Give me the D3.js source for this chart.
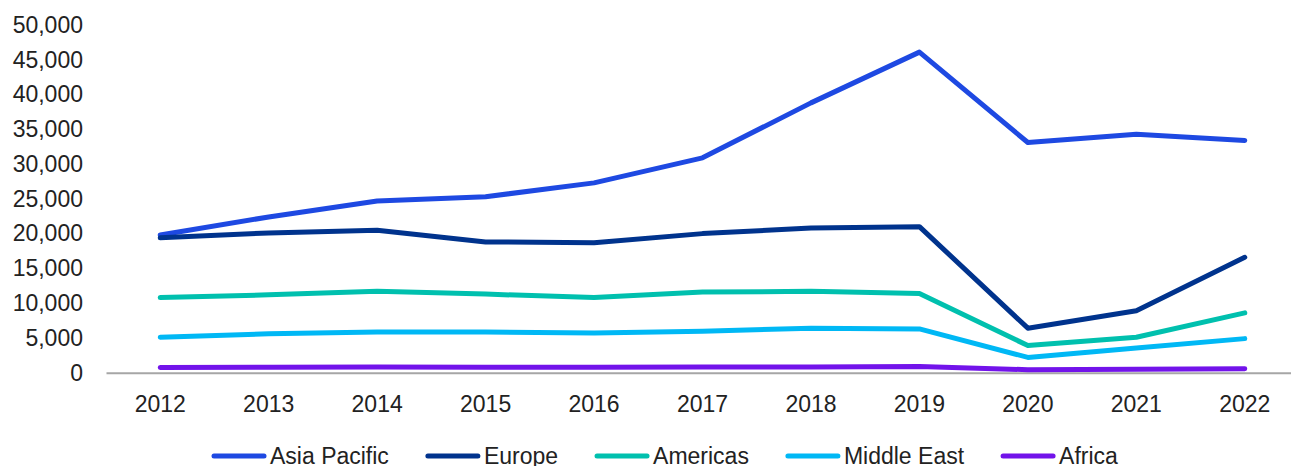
<!DOCTYPE html>
<html>
<head>
<meta charset="utf-8">
<script src="https://cdn.jsdelivr.net/npm/d3@7"></script>
<style>
  body { margin: 0; background: #fff; }
  text { font-family: "Liberation Sans", Arial, sans-serif; fill: #222; }
</style>
</head>
<body>
<div id="chart"></div>
<script>
// data
var years = ["2012", "2013", "2014", "2015", "2016", "2017", "2018", "2019", "2020", "2021", "2022"];
var asiaPacific = [19800, 22400, 24700, 25300, 27300, 30900, 38800, 46100, 33100, 34300, 33400];
var europe      = [19400, 20100, 20500, 18800, 18700, 20000, 20800, 21000, 6400, 8900, 16600];
var americas    = [10800, 11200, 11700, 11300, 10800, 11600, 11700, 11400, 3900, 5100, 8600];
var middleEast  = [5100, 5600, 5850, 5850, 5700, 5950, 6400, 6300, 2200, 3550, 4900];
var africa      = [750, 780, 820, 800, 790, 810, 820, 900, 430, 500, 580];
var yTicks = [0, 5000, 10000, 15000, 20000, 25000, 30000, 35000, 40000, 45000, 50000];

var seriesNames = ["Asia Pacific", "Europe", "Americas", "Middle East", "Africa"];
var seriesValues = [asiaPacific, europe, americas, middleEast, africa];
var colors = ["#1E49E2", "#00338D", "#00C0AE", "#00B8F5", "#7213EA"];

var width = 1291, height = 466;
var margin = { top: 25, right: -8, bottom: 93, left: 106 };

var svg = d3.select("#chart")
  .append("svg")
  .attr("width", width)
  .attr("height", height);

// scales
var x = d3.scaleBand()
  .domain(years)
  .range([margin.left, width - margin.right])
  .padding(0);

var y = d3.scaleLinear()
  .domain([0, 50000])
  .range([height - margin.bottom - 0.3, margin.top]);

var cx = function (i) { return x(years[i]) + x.bandwidth() / 2; };

// y axis (labels only)
var yAxis = svg.append("g")
  .attr("transform", "translate(" + margin.left + ",0)")
  .call(d3.axisLeft(y).tickValues(yTicks).tickSize(0).tickPadding(23)
    .tickFormat(d3.format(",")));
yAxis.select(".domain").remove();
yAxis.selectAll("text").style("font-size", "23px").style("font-family", null);

// x axis
var xAxis = svg.append("g")
  .attr("transform", "translate(0," + y(0) + ")")
  .call(d3.axisBottom(x).tickSize(0).tickPadding(23));
xAxis.select(".domain").attr("stroke", "#A6A6A6").attr("stroke-width", 2);
xAxis.selectAll("text").style("font-size", "23px").style("font-family", null);

// lines
var line = d3.line()
  .x(function (d, i) { return cx(i); })
  .y(function (d) { return y(d); });

svg.append("g")
  .selectAll("path")
  .data(seriesValues)
  .enter()
  .append("path")
  .attr("fill", "none")
  .attr("stroke", function (d, i) { return colors[i]; })
  .attr("stroke-width", 5)
  .attr("stroke-linecap", "round")
  .attr("stroke-linejoin", "round")
  .attr("d", line);

// legend (cut by the bottom edge, as in the reference)
var legend = svg.append("g").attr("transform", "translate(212,456)");
var lx = 0;
seriesNames.forEach(function (name, i) {
  var g = legend.append("g").attr("transform", "translate(" + lx + ",0)");
  g.append("line")
    .attr("x1", 2).attr("x2", 52)
    .attr("stroke", colors[i])
    .attr("stroke-width", 5)
    .attr("stroke-linecap", "round");
  var t = g.append("text")
    .attr("x", 58)
    .attr("y", 8)
    .style("font-size", "23px")
    .text(name);
  lx += 58 + t.node().getComputedTextLength() + 37;
});
</script>
</body>
</html>
